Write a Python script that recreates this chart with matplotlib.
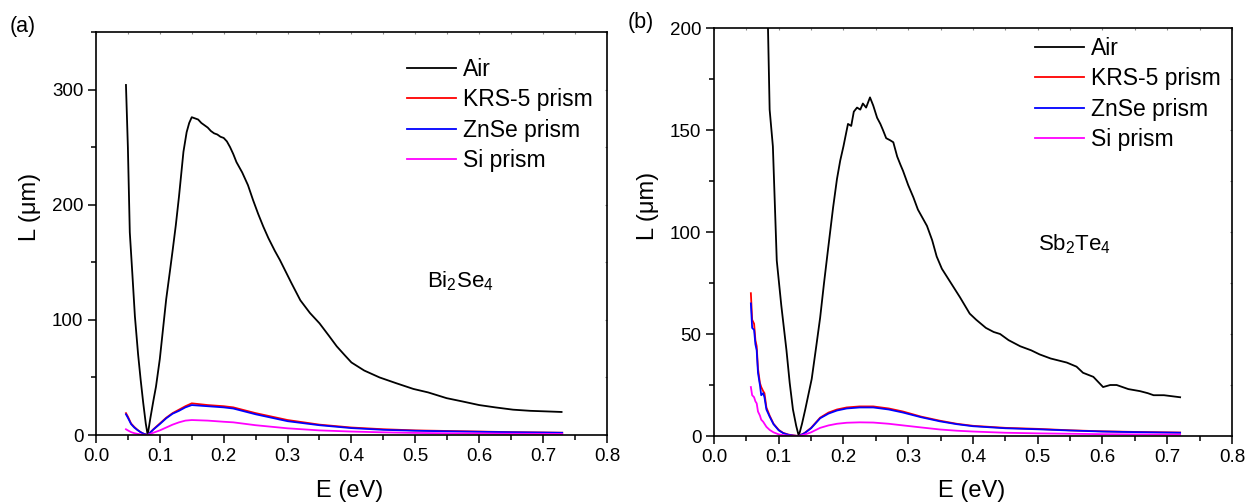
import matplotlib
matplotlib.use("Agg")
import matplotlib.pyplot as plt
from matplotlib.ticker import MultipleLocator

plt.rcParams['font.family'] = ['Liberation Sans', 'DejaVu Sans']
plt.rcParams['mathtext.default'] = 'regular'

# ---------------- Panel (a): Bi2Se4 ----------------
a_air_E = [0.047, 0.050, 0.053, 0.057, 0.061, 0.066, 0.070, 0.074, 0.078, 0.081,
           0.085, 0.090, 0.094, 0.100, 0.105, 0.110, 0.116, 0.120, 0.125, 0.130,
           0.137, 0.142, 0.146, 0.150, 0.155, 0.160, 0.165, 0.170, 0.175, 0.180,
           0.185, 0.190, 0.195, 0.200, 0.205, 0.210, 0.215, 0.220, 0.229, 0.238,
           0.246, 0.254, 0.262, 0.270, 0.280, 0.288, 0.297, 0.306, 0.320, 0.335,
           0.350, 0.365, 0.377, 0.390, 0.400, 0.420, 0.444, 0.470, 0.497, 0.520,
           0.549, 0.575, 0.600, 0.625, 0.653, 0.680, 0.705, 0.729]
a_air_L = [304, 250, 176, 140, 103, 70, 48, 28, 10, 0,
           14, 30, 42, 66, 92, 118, 143, 160, 182, 207,
           246, 263, 271, 276, 275, 274, 271, 269, 267, 264,
           262, 261, 259, 258, 255, 250, 244, 237, 228, 217,
           204, 192, 181, 171, 160, 152, 142, 132, 117, 106,
           97, 86, 77, 69, 63, 56, 50, 45, 40, 37,
           32, 29, 26, 24, 22, 21, 20.5, 20]

a_pr_E = [0.047, 0.050, 0.055, 0.060, 0.065, 0.070, 0.075, 0.081, 0.090, 0.100,
          0.110, 0.120, 0.130, 0.140, 0.150, 0.175, 0.200, 0.215, 0.250, 0.300,
          0.350, 0.400, 0.450, 0.500, 0.550, 0.600, 0.650, 0.700, 0.730]
a_krs_L = [19, 16, 10, 7, 4.5, 2.5, 1, 0, 5, 10,
           15, 19, 22, 25, 27.5, 26, 25, 24, 19, 13,
           9, 6.5, 5, 4, 3.5, 3, 2.5, 2.2, 2]
a_znse_L = [18, 15, 9.5, 6.5, 4.3, 2.4, 1, 0, 4.8, 9.5,
            14.5, 18.5, 21, 24, 26, 25, 24, 23, 18, 12,
            8.5, 6, 4.5, 3.7, 3.2, 2.8, 2.4, 2.1, 1.9]
a_si_L = [5, 4, 2.5, 1.6, 1, 0.5, 0.2, 0, 2, 4,
          6.5, 9, 11, 12.5, 13, 12.5, 11.5, 11, 8.5, 5.8,
          4, 3, 2.3, 1.8, 1.5, 1.3, 1.1, 1.0, 0.9]

# ---------------- Panel (b): Sb2Te4 ----------------
b_air_E = [0.0825, 0.086, 0.091, 0.097, 0.104, 0.112, 0.117, 0.122, 0.127, 0.131,
           0.136, 0.141, 0.151, 0.158, 0.164, 0.170, 0.176, 0.184, 0.190, 0.195,
           0.200, 0.207, 0.212, 0.216, 0.221, 0.226, 0.230, 0.235, 0.241, 0.246,
           0.252, 0.257, 0.261, 0.266, 0.272, 0.277, 0.283, 0.288, 0.292, 0.300,
           0.308, 0.315, 0.322, 0.329, 0.337, 0.344, 0.352, 0.360, 0.370, 0.380,
           0.395, 0.405, 0.420, 0.432, 0.442, 0.455, 0.473, 0.490, 0.503, 0.520,
           0.545, 0.560, 0.570, 0.586, 0.601, 0.612, 0.622, 0.640, 0.658, 0.670,
           0.679, 0.695, 0.720]
b_air_L = [215, 160, 142, 86, 64, 42, 26, 13, 5, 0,
           6, 13, 28, 44, 58, 75, 91, 112, 126, 135,
           142, 153, 152, 159, 161, 160, 163, 161, 166, 162,
           156, 153, 150, 146, 145, 144, 137, 133, 130, 123,
           117, 111, 107, 103, 96, 88, 82, 78, 73, 68,
           60, 57, 53, 51, 50, 47, 44, 42, 40, 38,
           36, 34, 31, 29, 24, 25, 25, 23, 22, 21,
           20, 20, 19]

b_pr_E = [0.057, 0.059, 0.062, 0.064, 0.066, 0.068, 0.071, 0.073, 0.076, 0.078,
          0.081, 0.086, 0.092, 0.100, 0.107, 0.115, 0.123, 0.131, 0.140, 0.150,
          0.164, 0.177, 0.190, 0.205, 0.225, 0.246, 0.270, 0.292, 0.320, 0.349,
          0.375, 0.400, 0.450, 0.500, 0.550, 0.600, 0.650, 0.720]
b_krs_L = [70, 57, 55, 47, 44, 33, 26, 24, 22, 21,
           14, 10, 6, 3, 1.5, 0.7, 0.3, 0, 1.5, 4,
           9, 11.5, 13, 14, 14.5, 14.5, 13.5, 12, 9.5, 7.5,
           6, 5, 4, 3.5, 2.8, 2.3, 2, 1.7]
b_znse_L = [65, 53, 52, 45, 42, 31, 25, 20, 21, 19,
            13, 9.5, 5.8, 2.8, 1.4, 0.6, 0.2, 0, 1.4, 3.8,
            8.7, 11, 12.5, 13.5, 14, 14, 13, 11.5, 9.2, 7.2,
            5.8, 4.8, 3.8, 3.3, 2.7, 2.2, 1.9, 1.6]
b_si_L = [24, 20, 19, 17, 16, 12, 10, 8, 7, 6,
          4.5, 3, 1.8, 0.8, 0.4, 0.2, 0.1, 0, 0.7, 1.8,
          4, 5.2, 6, 6.5, 6.7, 6.6, 6, 5.2, 4.2, 3.2,
          2.6, 2.2, 1.6, 1.3, 1.1, 0.9, 0.8, 0.7]

labels = ['Air', 'KRS-5 prism', 'ZnSe prism', 'Si prism']
colors = ['black', '#ff0000', '#0000ff', '#ff00ff']
x_ticks = [0.0, 0.1, 0.2, 0.3, 0.4, 0.5, 0.6, 0.7, 0.8]

fig = plt.figure(figsize=(12.46, 5.04), dpi=100)
axA = fig.add_axes([0.0770, 0.1369, 0.4101, 0.7996])
axB = fig.add_axes([0.5730, 0.1349, 0.4157, 0.8095])


def style(ax, ymax, ymaj, ylab_xy, xlab_y):
    ax.set_xlim(0, 0.8)
    ax.set_ylim(0, ymax)
    ax.set_xticks(x_ticks)
    ax.set_xticklabels(['%.1f' % t for t in x_ticks])
    ax.xaxis.set_minor_locator(MultipleLocator(0.05))
    ax.yaxis.set_major_locator(MultipleLocator(ymaj))
    ax.yaxis.set_minor_locator(MultipleLocator(ymaj / 2))
    for s in ax.spines.values():
        s.set_linewidth(1.2)
    ax.tick_params(which='major', direction='out', length=6, width=1.1,
                   labelsize=13.5, pad=3)
    ax.tick_params(which='minor', direction='out', length=3.5, width=1.1)
    ax.tick_params(which='both', top=False, right=False)
    ax.set_xlabel('E (eV)', fontsize=17)
    ax.set_ylabel('L (μm)', fontsize=17)
    ax.yaxis.set_label_coords(ylab_xy[0], ylab_xy[1])
    ax.xaxis.set_label_coords(0.497, xlab_y)
    ax.yaxis.label.set_va('center')
    ax.xaxis.label.set_va('center')

    # tiny mirrored ticks on top / right
    ax2 = ax.secondary_xaxis('top')
    ax2.set_xticks(x_ticks)
    ax2.xaxis.set_minor_locator(MultipleLocator(0.05))
    ax2.tick_params(which='both', direction='in', length=1.5, width=0.8,
                    labeltop=False, colors='#888888')
    ax2.spines['top'].set_visible(False)
    ay2 = ax.secondary_yaxis('right')
    ay2.yaxis.set_major_locator(MultipleLocator(ymaj))
    ay2.yaxis.set_minor_locator(MultipleLocator(ymaj / 2))
    ay2.tick_params(which='both', direction='in', length=1.5, width=0.8,
                    labelright=False, colors='#888888')
    ay2.spines['right'].set_visible(False)


style(axA, 350, 100, (-0.129, 0.566), -0.139)
style(axB, 200, 50, (-0.127, 0.564), -0.135)

lw = 1.3
axA.plot(a_air_E, a_air_L, color=colors[0], lw=lw, label=labels[0])
axA.plot(a_pr_E, a_krs_L, color=colors[1], lw=lw, label=labels[1])
axA.plot(a_pr_E, a_znse_L, color=colors[2], lw=lw, label=labels[2])
axA.plot(a_pr_E, a_si_L, color=colors[3], lw=lw, label=labels[3])

axB.plot(b_air_E, b_air_L, color=colors[0], lw=lw, label=labels[0])
axB.plot(b_pr_E, b_krs_L, color=colors[1], lw=lw, label=labels[1])
axB.plot(b_pr_E, b_znse_L, color=colors[2], lw=lw, label=labels[2])
axB.plot(b_pr_E, b_si_L, color=colors[3], lw=lw, label=labels[3])

for ax, anchor in [(axA, (0.609, 0.9365)), (axB, (0.620, 0.979))]:
    ax.legend(loc='upper left', bbox_to_anchor=anchor, frameon=False,
              fontsize=16.5, handlelength=2.14, handletextpad=0.3,
              labelspacing=0.33, borderpad=0, borderaxespad=0)

axA.text(0.648, 0.367, 'Bi$_2$Se$_4$', transform=axA.transAxes, fontsize=16,
         ha='left', va='baseline')
axB.text(0.625, 0.456, 'Sb$_2$Te$_4$', transform=axB.transAxes, fontsize=16,
         ha='left', va='baseline')

fig.text(0.008, 0.948, '(a)', fontsize=15.5, ha='left', va='center')
fig.text(0.504, 0.956, '(b)', fontsize=15.5, ha='left', va='center')

fig.savefig('out.png', dpi=100)
